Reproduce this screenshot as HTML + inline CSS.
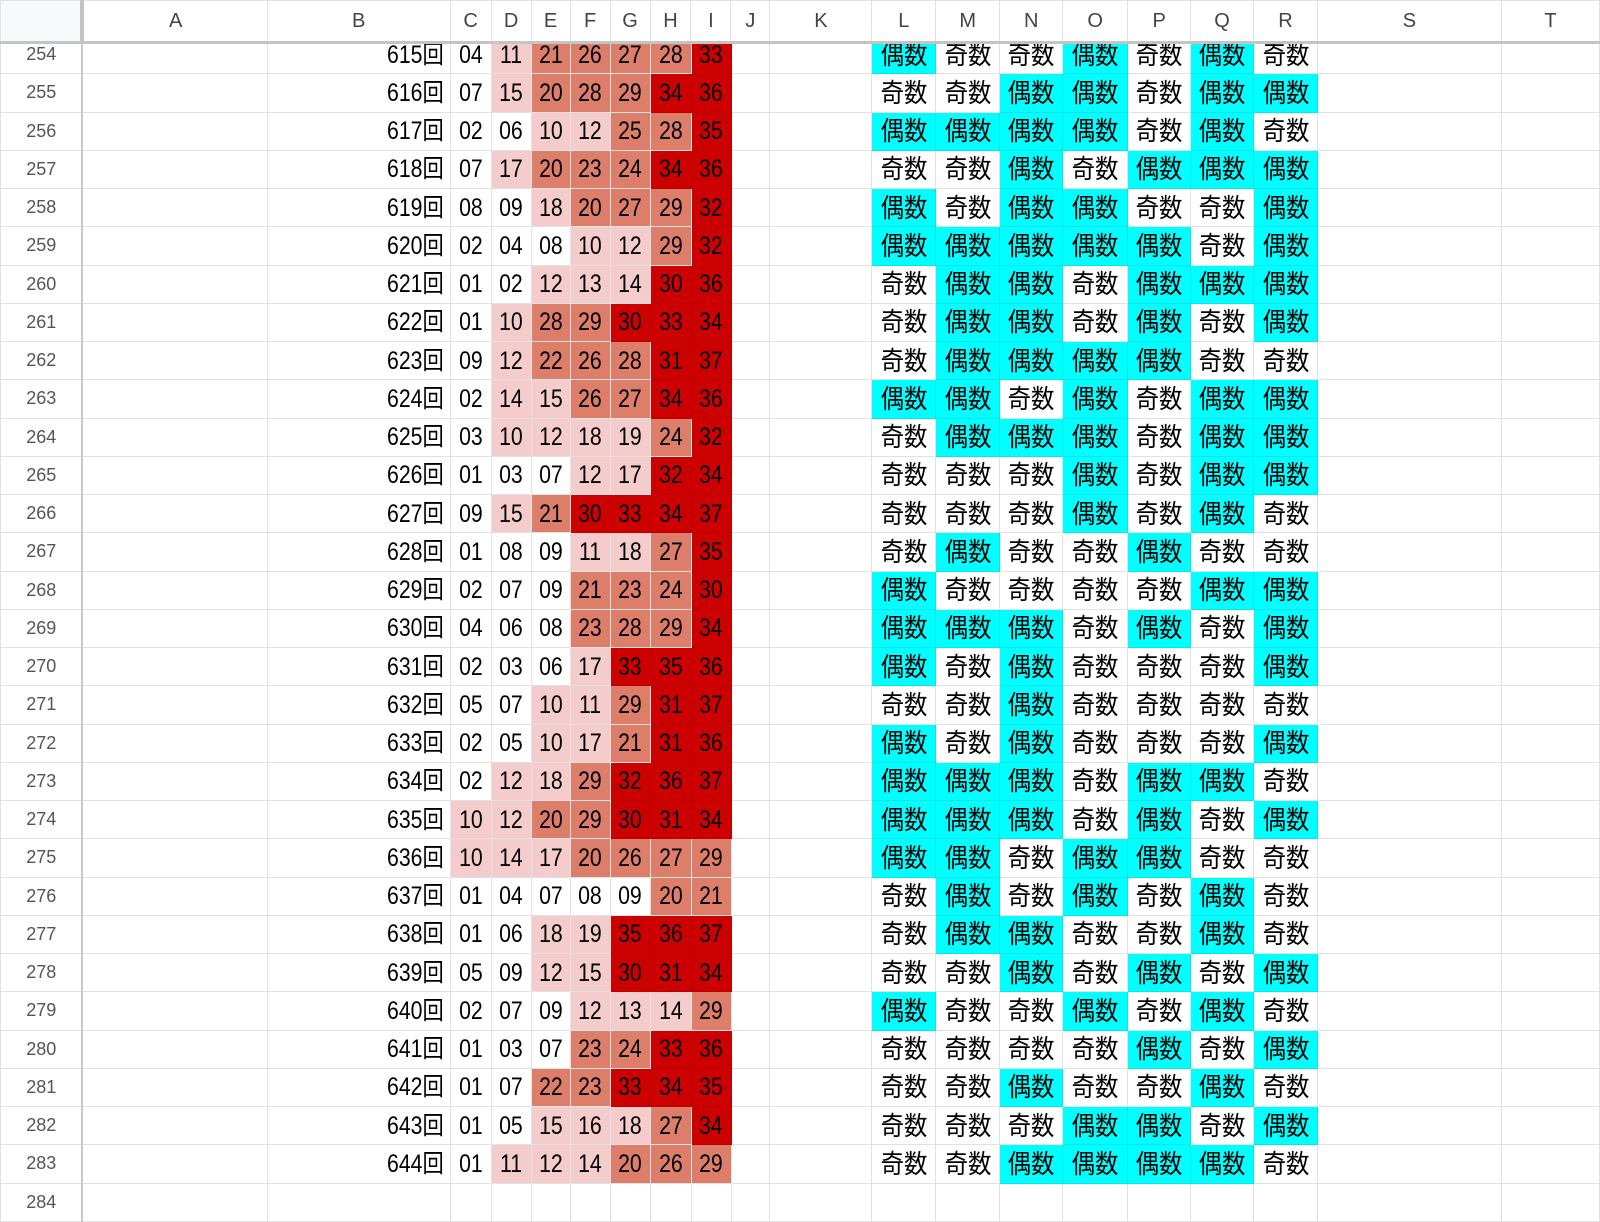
<!DOCTYPE html>
<html><head><meta charset="utf-8"><style>
html,body{margin:0;padding:0;background:#fff;width:1600px;height:1200px;overflow:hidden;font-family:"Liberation Sans","Noto Sans CJK JP",sans-serif}
table{border-collapse:collapse;table-layout:fixed;position:absolute;left:0}
td,th{border:1px solid #e2e2e2;padding:0;overflow:hidden;white-space:nowrap}
#hd{top:0;z-index:2;background:#fff}
#hd th{height:40px;font-weight:normal;font-size:20px;color:#444;border-bottom:3px solid #c4c4c4;background:#fff}
#hd th.c0{background:#f8f9fa;border-right:4px solid #c4c4c4}
#bd{top:35px}
#bd tr{height:38.25px}
#bd th{font-weight:normal;font-size:18px;color:#555;text-align:center;vertical-align:middle;border-right:2px solid #c8c8c8;background:#fff}
#bd td{text-align:center;vertical-align:middle}
i{font-style:normal;display:inline-block;font-size:25px;transform:scaleX(.85);color:#000;line-height:30px}
#bd td.b{text-align:right;padding-right:6px}
td.b i{transform-origin:right center}
b{font-weight:normal;display:inline-block;font-size:26px;transform:scaleX(.9);color:#000;line-height:30px}
.w{background:#fff}.p{background:#f4cccc}.s{background:#dd7e6b}.r{background:#cc0000;border-color:#c00000}
.e{background:#00ffff;border-color:#00e8e8}
</style></head><body>
<table id="hd"><colgroup><col style="width:82px"><col style="width:185px"><col style="width:183px"><col style="width:41px"><col style="width:40px"><col style="width:39px"><col style="width:40px"><col style="width:40px"><col style="width:41px"><col style="width:40px"><col style="width:39px"><col style="width:102px"><col style="width:64px"><col style="width:64px"><col style="width:63px"><col style="width:65px"><col style="width:63px"><col style="width:63px"><col style="width:64px"><col style="width:184px"><col style="width:98px"></colgroup>
<tr><th class="c0"></th><th>A</th><th>B</th><th>C</th><th>D</th><th>E</th><th>F</th><th>G</th><th>H</th><th>I</th><th>J</th><th>K</th><th>L</th><th>M</th><th>N</th><th>O</th><th>P</th><th>Q</th><th>R</th><th>S</th><th>T</th></tr></table>
<table id="bd"><colgroup><col style="width:82px"><col style="width:185px"><col style="width:183px"><col style="width:41px"><col style="width:40px"><col style="width:39px"><col style="width:40px"><col style="width:40px"><col style="width:41px"><col style="width:40px"><col style="width:39px"><col style="width:102px"><col style="width:64px"><col style="width:64px"><col style="width:63px"><col style="width:65px"><col style="width:63px"><col style="width:63px"><col style="width:64px"><col style="width:184px"><col style="width:98px"></colgroup>
<tr><th>254</th><td></td><td class="b"><i>615回</i></td><td class="w"><i>04</i></td><td class="p"><i>11</i></td><td class="s"><i>21</i></td><td class="s"><i>26</i></td><td class="s"><i>27</i></td><td class="s"><i>28</i></td><td class="r"><i>33</i></td><td></td><td></td><td class="e"><b>偶数</b></td><td><b>奇数</b></td><td><b>奇数</b></td><td class="e"><b>偶数</b></td><td><b>奇数</b></td><td class="e"><b>偶数</b></td><td><b>奇数</b></td><td></td><td></td></tr>
<tr><th>255</th><td></td><td class="b"><i>616回</i></td><td class="w"><i>07</i></td><td class="p"><i>15</i></td><td class="s"><i>20</i></td><td class="s"><i>28</i></td><td class="s"><i>29</i></td><td class="r"><i>34</i></td><td class="r"><i>36</i></td><td></td><td></td><td><b>奇数</b></td><td><b>奇数</b></td><td class="e"><b>偶数</b></td><td class="e"><b>偶数</b></td><td><b>奇数</b></td><td class="e"><b>偶数</b></td><td class="e"><b>偶数</b></td><td></td><td></td></tr>
<tr><th>256</th><td></td><td class="b"><i>617回</i></td><td class="w"><i>02</i></td><td class="w"><i>06</i></td><td class="p"><i>10</i></td><td class="p"><i>12</i></td><td class="s"><i>25</i></td><td class="s"><i>28</i></td><td class="r"><i>35</i></td><td></td><td></td><td class="e"><b>偶数</b></td><td class="e"><b>偶数</b></td><td class="e"><b>偶数</b></td><td class="e"><b>偶数</b></td><td><b>奇数</b></td><td class="e"><b>偶数</b></td><td><b>奇数</b></td><td></td><td></td></tr>
<tr><th>257</th><td></td><td class="b"><i>618回</i></td><td class="w"><i>07</i></td><td class="p"><i>17</i></td><td class="s"><i>20</i></td><td class="s"><i>23</i></td><td class="s"><i>24</i></td><td class="r"><i>34</i></td><td class="r"><i>36</i></td><td></td><td></td><td><b>奇数</b></td><td><b>奇数</b></td><td class="e"><b>偶数</b></td><td><b>奇数</b></td><td class="e"><b>偶数</b></td><td class="e"><b>偶数</b></td><td class="e"><b>偶数</b></td><td></td><td></td></tr>
<tr><th>258</th><td></td><td class="b"><i>619回</i></td><td class="w"><i>08</i></td><td class="w"><i>09</i></td><td class="p"><i>18</i></td><td class="s"><i>20</i></td><td class="s"><i>27</i></td><td class="s"><i>29</i></td><td class="r"><i>32</i></td><td></td><td></td><td class="e"><b>偶数</b></td><td><b>奇数</b></td><td class="e"><b>偶数</b></td><td class="e"><b>偶数</b></td><td><b>奇数</b></td><td><b>奇数</b></td><td class="e"><b>偶数</b></td><td></td><td></td></tr>
<tr><th>259</th><td></td><td class="b"><i>620回</i></td><td class="w"><i>02</i></td><td class="w"><i>04</i></td><td class="w"><i>08</i></td><td class="p"><i>10</i></td><td class="p"><i>12</i></td><td class="s"><i>29</i></td><td class="r"><i>32</i></td><td></td><td></td><td class="e"><b>偶数</b></td><td class="e"><b>偶数</b></td><td class="e"><b>偶数</b></td><td class="e"><b>偶数</b></td><td class="e"><b>偶数</b></td><td><b>奇数</b></td><td class="e"><b>偶数</b></td><td></td><td></td></tr>
<tr><th>260</th><td></td><td class="b"><i>621回</i></td><td class="w"><i>01</i></td><td class="w"><i>02</i></td><td class="p"><i>12</i></td><td class="p"><i>13</i></td><td class="p"><i>14</i></td><td class="r"><i>30</i></td><td class="r"><i>36</i></td><td></td><td></td><td><b>奇数</b></td><td class="e"><b>偶数</b></td><td class="e"><b>偶数</b></td><td><b>奇数</b></td><td class="e"><b>偶数</b></td><td class="e"><b>偶数</b></td><td class="e"><b>偶数</b></td><td></td><td></td></tr>
<tr><th>261</th><td></td><td class="b"><i>622回</i></td><td class="w"><i>01</i></td><td class="p"><i>10</i></td><td class="s"><i>28</i></td><td class="s"><i>29</i></td><td class="r"><i>30</i></td><td class="r"><i>33</i></td><td class="r"><i>34</i></td><td></td><td></td><td><b>奇数</b></td><td class="e"><b>偶数</b></td><td class="e"><b>偶数</b></td><td><b>奇数</b></td><td class="e"><b>偶数</b></td><td><b>奇数</b></td><td class="e"><b>偶数</b></td><td></td><td></td></tr>
<tr><th>262</th><td></td><td class="b"><i>623回</i></td><td class="w"><i>09</i></td><td class="p"><i>12</i></td><td class="s"><i>22</i></td><td class="s"><i>26</i></td><td class="s"><i>28</i></td><td class="r"><i>31</i></td><td class="r"><i>37</i></td><td></td><td></td><td><b>奇数</b></td><td class="e"><b>偶数</b></td><td class="e"><b>偶数</b></td><td class="e"><b>偶数</b></td><td class="e"><b>偶数</b></td><td><b>奇数</b></td><td><b>奇数</b></td><td></td><td></td></tr>
<tr><th>263</th><td></td><td class="b"><i>624回</i></td><td class="w"><i>02</i></td><td class="p"><i>14</i></td><td class="p"><i>15</i></td><td class="s"><i>26</i></td><td class="s"><i>27</i></td><td class="r"><i>34</i></td><td class="r"><i>36</i></td><td></td><td></td><td class="e"><b>偶数</b></td><td class="e"><b>偶数</b></td><td><b>奇数</b></td><td class="e"><b>偶数</b></td><td><b>奇数</b></td><td class="e"><b>偶数</b></td><td class="e"><b>偶数</b></td><td></td><td></td></tr>
<tr><th>264</th><td></td><td class="b"><i>625回</i></td><td class="w"><i>03</i></td><td class="p"><i>10</i></td><td class="p"><i>12</i></td><td class="p"><i>18</i></td><td class="p"><i>19</i></td><td class="s"><i>24</i></td><td class="r"><i>32</i></td><td></td><td></td><td><b>奇数</b></td><td class="e"><b>偶数</b></td><td class="e"><b>偶数</b></td><td class="e"><b>偶数</b></td><td><b>奇数</b></td><td class="e"><b>偶数</b></td><td class="e"><b>偶数</b></td><td></td><td></td></tr>
<tr><th>265</th><td></td><td class="b"><i>626回</i></td><td class="w"><i>01</i></td><td class="w"><i>03</i></td><td class="w"><i>07</i></td><td class="p"><i>12</i></td><td class="p"><i>17</i></td><td class="r"><i>32</i></td><td class="r"><i>34</i></td><td></td><td></td><td><b>奇数</b></td><td><b>奇数</b></td><td><b>奇数</b></td><td class="e"><b>偶数</b></td><td><b>奇数</b></td><td class="e"><b>偶数</b></td><td class="e"><b>偶数</b></td><td></td><td></td></tr>
<tr><th>266</th><td></td><td class="b"><i>627回</i></td><td class="w"><i>09</i></td><td class="p"><i>15</i></td><td class="s"><i>21</i></td><td class="r"><i>30</i></td><td class="r"><i>33</i></td><td class="r"><i>34</i></td><td class="r"><i>37</i></td><td></td><td></td><td><b>奇数</b></td><td><b>奇数</b></td><td><b>奇数</b></td><td class="e"><b>偶数</b></td><td><b>奇数</b></td><td class="e"><b>偶数</b></td><td><b>奇数</b></td><td></td><td></td></tr>
<tr><th>267</th><td></td><td class="b"><i>628回</i></td><td class="w"><i>01</i></td><td class="w"><i>08</i></td><td class="w"><i>09</i></td><td class="p"><i>11</i></td><td class="p"><i>18</i></td><td class="s"><i>27</i></td><td class="r"><i>35</i></td><td></td><td></td><td><b>奇数</b></td><td class="e"><b>偶数</b></td><td><b>奇数</b></td><td><b>奇数</b></td><td class="e"><b>偶数</b></td><td><b>奇数</b></td><td><b>奇数</b></td><td></td><td></td></tr>
<tr><th>268</th><td></td><td class="b"><i>629回</i></td><td class="w"><i>02</i></td><td class="w"><i>07</i></td><td class="w"><i>09</i></td><td class="s"><i>21</i></td><td class="s"><i>23</i></td><td class="s"><i>24</i></td><td class="r"><i>30</i></td><td></td><td></td><td class="e"><b>偶数</b></td><td><b>奇数</b></td><td><b>奇数</b></td><td><b>奇数</b></td><td><b>奇数</b></td><td class="e"><b>偶数</b></td><td class="e"><b>偶数</b></td><td></td><td></td></tr>
<tr><th>269</th><td></td><td class="b"><i>630回</i></td><td class="w"><i>04</i></td><td class="w"><i>06</i></td><td class="w"><i>08</i></td><td class="s"><i>23</i></td><td class="s"><i>28</i></td><td class="s"><i>29</i></td><td class="r"><i>34</i></td><td></td><td></td><td class="e"><b>偶数</b></td><td class="e"><b>偶数</b></td><td class="e"><b>偶数</b></td><td><b>奇数</b></td><td class="e"><b>偶数</b></td><td><b>奇数</b></td><td class="e"><b>偶数</b></td><td></td><td></td></tr>
<tr><th>270</th><td></td><td class="b"><i>631回</i></td><td class="w"><i>02</i></td><td class="w"><i>03</i></td><td class="w"><i>06</i></td><td class="p"><i>17</i></td><td class="r"><i>33</i></td><td class="r"><i>35</i></td><td class="r"><i>36</i></td><td></td><td></td><td class="e"><b>偶数</b></td><td><b>奇数</b></td><td class="e"><b>偶数</b></td><td><b>奇数</b></td><td><b>奇数</b></td><td><b>奇数</b></td><td class="e"><b>偶数</b></td><td></td><td></td></tr>
<tr><th>271</th><td></td><td class="b"><i>632回</i></td><td class="w"><i>05</i></td><td class="w"><i>07</i></td><td class="p"><i>10</i></td><td class="p"><i>11</i></td><td class="s"><i>29</i></td><td class="r"><i>31</i></td><td class="r"><i>37</i></td><td></td><td></td><td><b>奇数</b></td><td><b>奇数</b></td><td class="e"><b>偶数</b></td><td><b>奇数</b></td><td><b>奇数</b></td><td><b>奇数</b></td><td><b>奇数</b></td><td></td><td></td></tr>
<tr><th>272</th><td></td><td class="b"><i>633回</i></td><td class="w"><i>02</i></td><td class="w"><i>05</i></td><td class="p"><i>10</i></td><td class="p"><i>17</i></td><td class="s"><i>21</i></td><td class="r"><i>31</i></td><td class="r"><i>36</i></td><td></td><td></td><td class="e"><b>偶数</b></td><td><b>奇数</b></td><td class="e"><b>偶数</b></td><td><b>奇数</b></td><td><b>奇数</b></td><td><b>奇数</b></td><td class="e"><b>偶数</b></td><td></td><td></td></tr>
<tr><th>273</th><td></td><td class="b"><i>634回</i></td><td class="w"><i>02</i></td><td class="p"><i>12</i></td><td class="p"><i>18</i></td><td class="s"><i>29</i></td><td class="r"><i>32</i></td><td class="r"><i>36</i></td><td class="r"><i>37</i></td><td></td><td></td><td class="e"><b>偶数</b></td><td class="e"><b>偶数</b></td><td class="e"><b>偶数</b></td><td><b>奇数</b></td><td class="e"><b>偶数</b></td><td class="e"><b>偶数</b></td><td><b>奇数</b></td><td></td><td></td></tr>
<tr><th>274</th><td></td><td class="b"><i>635回</i></td><td class="p"><i>10</i></td><td class="p"><i>12</i></td><td class="s"><i>20</i></td><td class="s"><i>29</i></td><td class="r"><i>30</i></td><td class="r"><i>31</i></td><td class="r"><i>34</i></td><td></td><td></td><td class="e"><b>偶数</b></td><td class="e"><b>偶数</b></td><td class="e"><b>偶数</b></td><td><b>奇数</b></td><td class="e"><b>偶数</b></td><td><b>奇数</b></td><td class="e"><b>偶数</b></td><td></td><td></td></tr>
<tr><th>275</th><td></td><td class="b"><i>636回</i></td><td class="p"><i>10</i></td><td class="p"><i>14</i></td><td class="p"><i>17</i></td><td class="s"><i>20</i></td><td class="s"><i>26</i></td><td class="s"><i>27</i></td><td class="s"><i>29</i></td><td></td><td></td><td class="e"><b>偶数</b></td><td class="e"><b>偶数</b></td><td><b>奇数</b></td><td class="e"><b>偶数</b></td><td class="e"><b>偶数</b></td><td><b>奇数</b></td><td><b>奇数</b></td><td></td><td></td></tr>
<tr><th>276</th><td></td><td class="b"><i>637回</i></td><td class="w"><i>01</i></td><td class="w"><i>04</i></td><td class="w"><i>07</i></td><td class="w"><i>08</i></td><td class="w"><i>09</i></td><td class="s"><i>20</i></td><td class="s"><i>21</i></td><td></td><td></td><td><b>奇数</b></td><td class="e"><b>偶数</b></td><td><b>奇数</b></td><td class="e"><b>偶数</b></td><td><b>奇数</b></td><td class="e"><b>偶数</b></td><td><b>奇数</b></td><td></td><td></td></tr>
<tr><th>277</th><td></td><td class="b"><i>638回</i></td><td class="w"><i>01</i></td><td class="w"><i>06</i></td><td class="p"><i>18</i></td><td class="p"><i>19</i></td><td class="r"><i>35</i></td><td class="r"><i>36</i></td><td class="r"><i>37</i></td><td></td><td></td><td><b>奇数</b></td><td class="e"><b>偶数</b></td><td class="e"><b>偶数</b></td><td><b>奇数</b></td><td><b>奇数</b></td><td class="e"><b>偶数</b></td><td><b>奇数</b></td><td></td><td></td></tr>
<tr><th>278</th><td></td><td class="b"><i>639回</i></td><td class="w"><i>05</i></td><td class="w"><i>09</i></td><td class="p"><i>12</i></td><td class="p"><i>15</i></td><td class="r"><i>30</i></td><td class="r"><i>31</i></td><td class="r"><i>34</i></td><td></td><td></td><td><b>奇数</b></td><td><b>奇数</b></td><td class="e"><b>偶数</b></td><td><b>奇数</b></td><td class="e"><b>偶数</b></td><td><b>奇数</b></td><td class="e"><b>偶数</b></td><td></td><td></td></tr>
<tr><th>279</th><td></td><td class="b"><i>640回</i></td><td class="w"><i>02</i></td><td class="w"><i>07</i></td><td class="w"><i>09</i></td><td class="p"><i>12</i></td><td class="p"><i>13</i></td><td class="p"><i>14</i></td><td class="s"><i>29</i></td><td></td><td></td><td class="e"><b>偶数</b></td><td><b>奇数</b></td><td><b>奇数</b></td><td class="e"><b>偶数</b></td><td><b>奇数</b></td><td class="e"><b>偶数</b></td><td><b>奇数</b></td><td></td><td></td></tr>
<tr><th>280</th><td></td><td class="b"><i>641回</i></td><td class="w"><i>01</i></td><td class="w"><i>03</i></td><td class="w"><i>07</i></td><td class="s"><i>23</i></td><td class="s"><i>24</i></td><td class="r"><i>33</i></td><td class="r"><i>36</i></td><td></td><td></td><td><b>奇数</b></td><td><b>奇数</b></td><td><b>奇数</b></td><td><b>奇数</b></td><td class="e"><b>偶数</b></td><td><b>奇数</b></td><td class="e"><b>偶数</b></td><td></td><td></td></tr>
<tr><th>281</th><td></td><td class="b"><i>642回</i></td><td class="w"><i>01</i></td><td class="w"><i>07</i></td><td class="s"><i>22</i></td><td class="s"><i>23</i></td><td class="r"><i>33</i></td><td class="r"><i>34</i></td><td class="r"><i>35</i></td><td></td><td></td><td><b>奇数</b></td><td><b>奇数</b></td><td class="e"><b>偶数</b></td><td><b>奇数</b></td><td><b>奇数</b></td><td class="e"><b>偶数</b></td><td><b>奇数</b></td><td></td><td></td></tr>
<tr><th>282</th><td></td><td class="b"><i>643回</i></td><td class="w"><i>01</i></td><td class="w"><i>05</i></td><td class="p"><i>15</i></td><td class="p"><i>16</i></td><td class="p"><i>18</i></td><td class="s"><i>27</i></td><td class="r"><i>34</i></td><td></td><td></td><td><b>奇数</b></td><td><b>奇数</b></td><td><b>奇数</b></td><td class="e"><b>偶数</b></td><td class="e"><b>偶数</b></td><td><b>奇数</b></td><td class="e"><b>偶数</b></td><td></td><td></td></tr>
<tr><th>283</th><td></td><td class="b"><i>644回</i></td><td class="w"><i>01</i></td><td class="p"><i>11</i></td><td class="p"><i>12</i></td><td class="p"><i>14</i></td><td class="s"><i>20</i></td><td class="s"><i>26</i></td><td class="s"><i>29</i></td><td></td><td></td><td><b>奇数</b></td><td><b>奇数</b></td><td class="e"><b>偶数</b></td><td class="e"><b>偶数</b></td><td class="e"><b>偶数</b></td><td class="e"><b>偶数</b></td><td><b>奇数</b></td><td></td><td></td></tr>
<tr><th>284</th><td></td><td></td><td></td><td></td><td></td><td></td><td></td><td></td><td></td><td></td><td></td><td></td><td></td><td></td><td></td><td></td><td></td><td></td><td></td><td></td></tr>
</table>
</body></html>
